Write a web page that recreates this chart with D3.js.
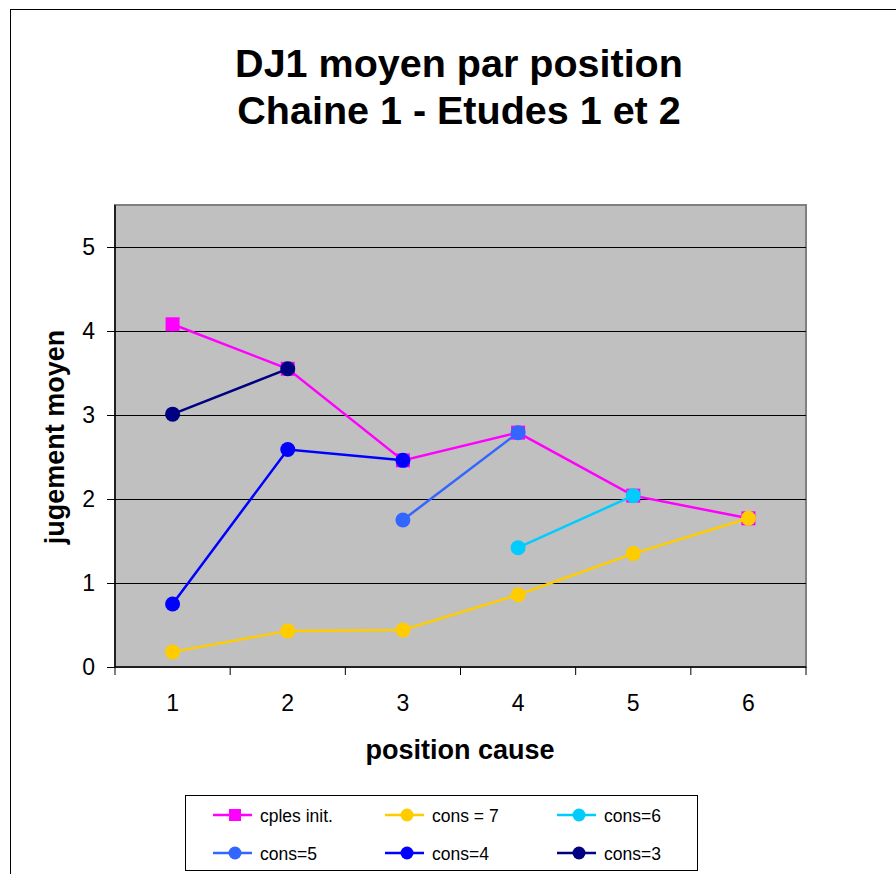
<!DOCTYPE html>
<html><head><meta charset="utf-8">
<script src="https://cdn.jsdelivr.net/npm/d3@7"></script>
<style>body{margin:0;background:#fff}svg{display:block;font-family:"Liberation Sans",Arial,sans-serif}</style>
</head><body><svg id="c" width="896" height="874"></svg>
<script>
const positions = [1, 2, 3, 4, 5, 6];
const yTicks = [0, 1, 2, 3, 4, 5];
const seriesNames = ["cples init.", "cons = 7", "cons=6", "cons=5", "cons=4", "cons=3"];
const seriesColors = ["#FF00FF", "#FFCC00", "#00CCFF", "#3366FF", "#0000FF", "#000080"];
const seriesShapes = ["square", "circle", "circle", "circle", "circle", "circle"];
const cplesInit = [4.08, 3.55, 2.46, 2.79, 2.04, 1.77];
const cons7 = [0.18, 0.43, 0.44, 0.86, 1.35, 1.77];
const cons6 = [null, null, null, 1.42, 2.04, null];
const cons5 = [null, null, 1.75, 2.79, null, null];
const cons4 = [0.75, 2.59, 2.46, null, null, null];
const cons3 = [3.01, 3.55, null, null, null, null];
const seriesValues = [cplesInit, cons7, cons6, cons5, cons4, cons3];

const svg = d3.select("#c");
svg.append("rect").attr("x", 10.5).attr("y", 9.5).attr("width", 900).attr("height", 900)
  .attr("fill", "none").attr("stroke", "#000").attr("stroke-width", 1);

const L = 115, R = 806, T = 205, B = 667;
const x = d3.scaleBand().domain(positions).range([L, R]);
const y = d3.scaleLinear().domain([0, 5.5]).range([B, T]);

svg.append("rect").attr("x", L).attr("y", T).attr("width", R - L).attr("height", B - T)
  .attr("fill", "#C0C0C0").attr("stroke", "#808080").attr("stroke-width", 2);

svg.append("g").selectAll("line").data(yTicks.filter(d => d > 0)).join("line")
  .attr("x1", L).attr("x2", R).attr("y1", d => Math.round(y(d)) + 0.5).attr("y2", d => Math.round(y(d)) + 0.5)
  .attr("stroke", "#000").attr("stroke-width", 1);

const yAxis = d3.axisLeft(y).tickValues(yTicks).tickFormat(d3.format("d")).tickSize(8).tickPadding(12);
const gy = svg.append("g").attr("transform", `translate(${L},0)`).call(yAxis)
  .attr("font-size", 23).attr("font-family", "Liberation Sans, Arial");
gy.select(".domain").attr("stroke", "#000").attr("stroke-width", 1.5).attr("d", `M0,${T}V${B}`);
gy.selectAll("text").attr("fill", "#000");
gy.selectAll(".tick line").attr("stroke", "#000");

const xAxis = d3.axisBottom(x).tickSize(0).tickPadding(28);
const gx = svg.append("g").attr("transform", `translate(0,${B})`).call(xAxis)
  .attr("font-size", 23).attr("font-family", "Liberation Sans, Arial");
gx.select(".domain").attr("stroke", "#000").attr("stroke-width", 1.5).attr("d", `M${L},0H${R}`);
gx.selectAll("text").attr("fill", "#000");
const bounds = positions.map(p => x(p)).concat([R]);
gx.append("g").selectAll("line").data(bounds).join("line")
  .attr("x1", d => d).attr("x2", d => d).attr("y1", 0).attr("y2", 8).attr("stroke", "#000");

svg.append("text").attr("x", 459).attr("y", 77).attr("text-anchor", "middle")
  .attr("font-size", 39.5).attr("font-weight", "bold").text("DJ1 moyen par position");
svg.append("text").attr("x", 459).attr("y", 124).attr("text-anchor", "middle")
  .attr("font-size", 39.5).attr("font-weight", "bold").text("Chaine 1 - Etudes 1 et 2");
svg.append("text").attr("x", 460).attr("y", 759).attr("text-anchor", "middle")
  .attr("font-size", 27).attr("font-weight", "bold").text("position cause");
svg.append("text").attr("transform", "translate(64,437) rotate(-90)").attr("text-anchor", "middle")
  .attr("font-size", 27).attr("font-weight", "bold").text("jugement moyen");

const cx = p => x(p) + x.bandwidth() / 2;
const line = d3.line().defined(d => d.v != null).x(d => cx(d.p)).y(d => y(d.v));
seriesValues.forEach((vals, i) => {
  const pts = positions.map((p, j) => ({ p, v: vals[j] }));
  const g = svg.append("g");
  g.append("path").attr("d", line(pts)).attr("fill", "none")
    .attr("stroke", seriesColors[i]).attr("stroke-width", 2.5);
  const valid = pts.filter(d => d.v != null);
  if (seriesShapes[i] === "square") {
    g.selectAll("rect").data(valid).join("rect")
      .attr("x", d => cx(d.p) - 7).attr("y", d => y(d.v) - 7).attr("width", 14).attr("height", 14)
      .attr("fill", seriesColors[i]);
  } else {
    g.selectAll("circle").data(valid).join("circle")
      .attr("cx", d => cx(d.p)).attr("cy", d => y(d.v)).attr("r", 7.5).attr("fill", seriesColors[i]);
  }
});

svg.append("rect").attr("x", 185.5).attr("y", 795.5).attr("width", 512).attr("height", 75)
  .attr("fill", "#fff").attr("stroke", "#000").attr("stroke-width", 1);
const colX = [213, 385, 557], rowY = [815, 853];
seriesNames.forEach((name, i) => {
  const lx = colX[i % 3], ly = rowY[Math.floor(i / 3)];
  const g = svg.append("g");
  g.append("line").attr("x1", lx).attr("x2", lx + 39).attr("y1", ly).attr("y2", ly)
    .attr("stroke", seriesColors[i]).attr("stroke-width", 2.5);
  if (seriesShapes[i] === "square") {
    g.append("rect").attr("x", lx + 22 - 6).attr("y", ly - 6).attr("width", 12).attr("height", 12).attr("fill", seriesColors[i]);
  } else {
    g.append("circle").attr("cx", lx + 22).attr("cy", ly).attr("r", 6.5).attr("fill", seriesColors[i]);
  }
  g.append("text").attr("x", lx + 47).attr("y", ly + 6.5).attr("font-size", 17.5).text(name);
});
</script></body></html>
